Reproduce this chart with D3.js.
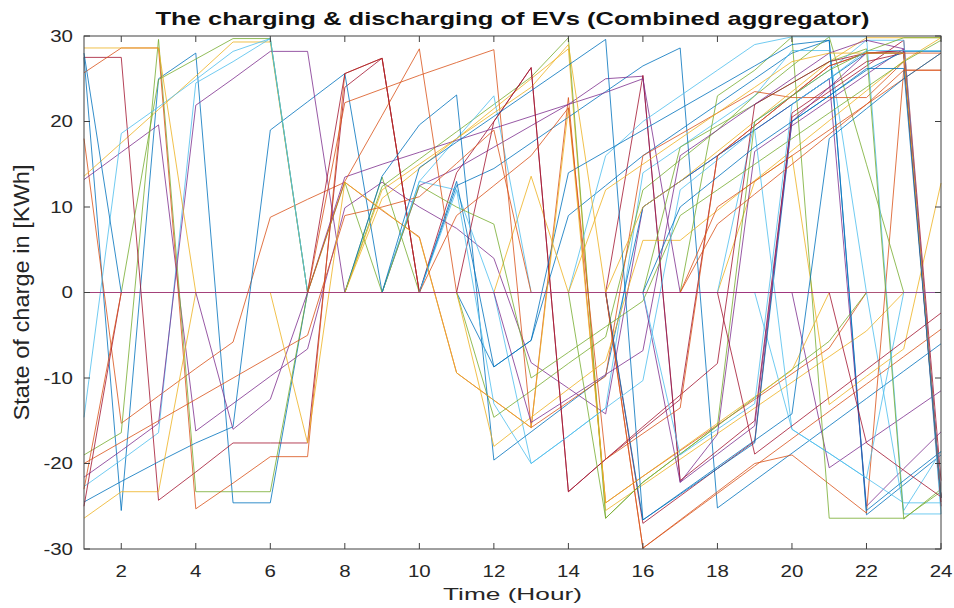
<!DOCTYPE html>
<html><head><meta charset="utf-8">
<script src="https://cdn.jsdelivr.net/npm/d3@7"></script>
<style>html,body{margin:0;padding:0;background:#fff}</style>
</head><body>
<script>
const hours = d3.range(1, 25);
const xTicks = [2,4,6,8,10,12,14,16,18,20,22,24];
const yTicks = [-30,-20,-10,0,10,20,30];
const titleText = "The charging & discharging of EVs (Combined aggregator)";
const xLabel = "Time (Hour)";
const yLabel = "State of charge in [KWh]";

const ev01 = [27.5,-25.5,25,28,-24.6,-24.6,0,0,0,0,0,-8.7,-5.6,9,12.5,16,19,22,25,28,29.5,-26,-22.5,-19];
const ev02 = [18,-15.3,-12.1,-8.9,-5.8,8.8,10.9,12.9,9.6,6.5,-9.4,-12.6,-15.8,22.8,-24.6,-21.5,-18.5,-15.5,-12.5,-9.5,-6.5,0,0,0];
const ev03 = [13.6,17.5,21.4,25.3,29.3,29.3,0,0,11,14.5,18,21.5,25,28.5,-25.5,-22.5,-19.5,-16.5,-13.5,-10.5,-7.5,-4.5,0,0];
const ev04 = [13.2,16.4,19.6,-16.2,-13,-9.8,-6.6,9.9,12.9,10,7.5,4,-8.2,-11.2,-14.2,10,13,16,19,22,25,-25,-20.6,-16.3];
const ev05 = [-19,-16.4,29.6,-23.3,-23.3,-23.3,0,0,12.4,15.6,18.8,22,25.2,29.8,-26.4,-22.2,-18.9,-15.6,-12.3,-9,-5.7,0,0,0];
const ev06 = [-22.7,-19.6,-16.4,24.5,27,29.7,0,0,0,0,0,0,-20,-16.8,-13.5,14,17,20,23,28.3,28.3,0,-25.5,-18.6];
const ev07 = [27.5,27.5,-24.3,-21,-17.6,-17.6,-17.6,24,27.4,0,14,20,26.3,-23.3,-19.5,-16,-12.5,16,19.5,23,26.5,28,28,-24];
const ev08 = [-24.5,-22.1,-19.8,-17.6,-15.7,19,22.3,25.6,0,0,12.5,14.5,17.5,20.5,23.5,26.5,28.6,-25.2,-22,-18.8,-15.6,-12.4,-9.2,-6];
const ev09 = [25.7,28.6,28.6,-25.3,-22.3,-19.2,-19.2,25.6,27.4,0,0,0,0,0,0,-29.9,-26.6,-23.3,-20,-19,-22.4,-25.8,26,26];
const ev10 = [-26.4,-23.3,-23.3,0,0,0,0,0,0,0,0,0,13.6,0,0,0,0,0,13,16,-13.1,-9.8,-6.6,12.8];
const ev11 = [-21.6,-18.5,-15.3,21.9,25,28.2,28.2,0,0,12.5,14.5,17,19.5,22,25,25.3,-22.2,-16.6,16.5,19.5,22.5,25.5,28.5,-24];
const ev12 = [0,0,24.9,27.3,29.7,29.7,0,0,13.5,0,0,-14.6,-11.5,-8.3,-5.2,12,15.5,19,23,26.5,29.9,15,0,0];
const ev13 = [-14.6,18.6,21.7,24.9,28.2,29.7,0,0,0,13,18,23,0,0,0,0,0,0,0,-16,-18.8,-21.7,-24.6,-24.6];
const ev14 = [-25,0,0,0,0,0,0,25.6,27.4,0,0,0,0,0,0,25.4,-22,-18.5,-15,20.5,23.5,26.5,29.5,-22];
const ev15 = [0,0,0,0,0,0,0,0,13.6,19.6,23.1,-19.6,-16.3,-13,-9.7,10,13,16,19,22,25,28,28,-24];
const ev16 = [-23,0,0,0,0,0,0,22.2,23.8,25.4,26.9,28.4,-15.8,-12.8,-9.8,16,18.5,21,23.5,22.8,22.8,22.8,27,-24];
const ev17 = [28.6,28.6,28.6,0,0,0,0,0,0,0,0,-18,-14.6,-11.3,-8,6.1,6.1,9.6,13.1,16.6,20.1,23.6,27.1,29.8];
const ev18 = [0,0,0,0,0,0,0,13.5,15,16.4,17.8,19.2,20.6,22,23.4,25,0,0,0,0,-20.5,-17.5,-14.5,-11.5];
const ev19 = [0,0,0,0,0,0,0,12.9,0,0,0,0,0,0,0,0,0,23,26,29.9,-26.4,-26.4,-26.4,-23.3];
const ev20 = [0,0,0,0,0,0,0,0,0,13,12,0,0,0,16,20,23,26,29,29.9,29.9,29.9,-25.9,-25.9];
const ev21 = [0,0,0,0,0,0,0,0,0,0,0,0,0,0,0,-27,-23.8,-20.6,-17.4,21,24,27,28,-25];
const ev22 = [28,0,0,0,0,0,0,0,0,0,0,0,0,0,0,-26.6,-23.6,-20.6,-17.6,20,23,26,28.2,28.2];
const ev23 = [0,0,0,0,0,0,0,13,20.7,28.5,0,0,0,0,0,-29.9,-26.7,-23.5,-20.3,-17.1,-13.9,-10.7,-7.5,-4.3];
const ev24 = [0,0,0,0,0,0,0,0,12,15,18,21,24,29,0,10,13,16.5,20,23.5,27,29.8,29.8,29.8];
const ev25 = [0,0,0,0,-16,-12.5,0,0,0,0,0,0,0,0,0,0,-22.2,-18.9,-15.6,20,24,28,28.3,-24];
const ev26 = [0,0,0,0,0,0,0,0,0,0,0,0,0,0,0,0,17,19.5,22,24.5,27,28.5,-26.5,-23];
const ev27 = [0,0,0,0,0,0,0,0,0,0,0,0,0,0,0,0,0,0,20,23,26,29.5,29.5,-25.9];
const ev28 = [0,0,0,0,0,0,0,0,0,0,0,20,26.3,-23.3,-19.5,-15.7,-12,-8.3,22,24.5,27,28,28.3,-24.5];
const ev29 = [0,0,0,0,0,0,0,0,0,0,13,-8.7,-5.6,14,16.5,19,21.5,24,26.5,29,29.5,-25.5,-22,-18.6];
const ev30 = [-20,-17.5,-15,-12.5,-10,-7.5,-5,9,10,11.2,15.1,19,0,0,0,0,0,10,13,16,19,22,25,28];
const ev31 = [0,0,0,0,0,0,-17.6,12.9,9.7,6.4,-9.4,-12.6,-15.8,21.6,-24.6,-21.5,-18.4,-15.3,-12.2,-9.1,0,0,0,0];
const ev32 = [0,0,0,0,0,0,0,0,0,0,0,0,-15.2,-12.4,-9.6,-6.8,16,19,22,25,28,29.5,28.5,-24];
const ev33 = [0,0,0,0,0,0,0,0,0,12.5,10,8,-10,-7,-4,-1,9,12,15,18,21,24,27,29.5];
const ev34 = [0,0,0,0,0,0,0,0,0,0,12,-13,-20,-16.8,-13.5,-10.3,12,15.5,19,-16,-18.8,-21.7,0,0];
const ev35 = [0,0,0,0,0,0,0,0,0,0,0,0,0,0,0,0,0,0,0,0,0,-17.6,-20.8,-23.9];
const ev36 = [0,0,0,0,0,0,0,0,0,14.6,17.6,20.6,23.6,26.6,29.6,-26.6,-23.5,-20.4,-17.3,-14.2,18,21.5,25,28];
const ev37 = [0,0,0,0,0,0,0,0,0,0,9,12.5,16,21.6,-19.5,-16.5,-13.5,16,19.5,23,26.5,28,28,28];
const ev38 = [0,0,0,0,0,0,0,0,0,0,0,0,0,0,12,15,18,21,24,27,28,28,28,-24];
const ev39 = [0,0,0,0,0,0,0,0,0,0,0,0,0,0,0,0,0,0,0,0,0,0,0,0];
const ev40 = [0,0,0,0,0,0,0,0,0,0,0,0,0,0,-26.4,-22.2,-18.9,-15.6,20,23,26,28.2,29.8,29.8];
const ev41 = [0,0,0,0,0,0,0,0,0,0,0,0,0,0,0,0,-19,-16,-13,22,25,28.3,28.3,28.3];
const ev42 = [0,0,0,0,0,0,0,0,0,0,0,0,0,0,0,0,0,0,-18.9,-15.6,-12.3,-9,-5.7,-2.4];
const ev43 = [0,0,0,0,0,0,0,0,0,0,0,0,0,0,0,0,10,13.5,17,20,23,26.2,26.2,-24];
const ev44 = [0,0,0,0,0,0,0,0,0,0,0,0,0,0,0,0,0,8,11.5,15,18.5,22,26,26];

const series = [ev01,ev02,ev03,ev04,ev05,ev06,ev07,ev08,ev09,ev10,ev11,ev12,ev13,ev14,ev15,
  ev16,ev17,ev18,ev19,ev20,ev21,ev22,ev23,ev24,ev25,ev26,ev27,ev28,ev29,ev30,ev31,ev32,ev33,
  ev34,ev35,ev36,ev37,ev38,ev39,ev40,ev41,ev42,ev43,ev44];

const W = 954, H = 608;
const L = 84, R = 941, T = 36, B = 549;
const palette = ["#0072BD","#D95319","#EDB120","#7E2F8E","#77AC30","#4DBEEE","#A2142F"];
const color = d3.scaleOrdinal(d3.range(7), palette);

const svg = d3.select("body").append("svg").attr("width", W).attr("height", H)
  .style("font-family", "'Liberation Sans', Arial, sans-serif");
svg.append("rect").attr("width", W).attr("height", H).attr("fill", "#fff");

const x = d3.scaleLinear().domain([1, 24]).range([L, R]);
const y = d3.scaleLinear().domain([-30, 30]).range([B, T]);

const line = d3.line().x((d, i) => x(hours[i])).y(d => y(d));

const zeroIdx = series.indexOf(ev39);
const order = d3.range(series.length).sort((a, b) => (a === zeroIdx) - (b === zeroIdx) || a - b);

const gl = svg.append("g");
gl.selectAll("path").data(order).join("path")
  .attr("d", i => line(series[i]))
  .attr("fill", "none")
  .attr("stroke", i => i === zeroIdx ? "#a03c8c" : color(i % 7))
  .attr("stroke-width", 1.0)
  .attr("stroke-opacity", 0.8)
  .attr("stroke-linejoin", "round");

// box & ticks
const axc = "#404040";
svg.append("rect").attr("x", L).attr("y", T).attr("width", R - L).attr("height", B - T)
  .attr("fill", "none").attr("stroke", axc).attr("stroke-width", 1);
const tk = 6;
const gt = svg.append("g").attr("stroke", axc).attr("stroke-width", 1);
xTicks.forEach(t => {
  gt.append("line").attr("x1", x(t)).attr("x2", x(t)).attr("y1", B).attr("y2", B - tk);
  gt.append("line").attr("x1", x(t)).attr("x2", x(t)).attr("y1", T).attr("y2", T + tk);
});
yTicks.forEach(t => {
  gt.append("line").attr("x1", L).attr("x2", L + tk).attr("y1", y(t)).attr("y2", y(t));
  gt.append("line").attr("x1", R).attr("x2", R - tk).attr("y1", y(t)).attr("y2", y(t));
});

const sx = 1.28;
function stretchedText(px, py, txt, anchor, size, weight) {
  const g = svg.append("g").attr("transform", `translate(${px},${py}) scale(${sx},1)`);
  g.append("text").attr("text-anchor", anchor).attr("font-size", size)
    .attr("font-weight", weight || "normal").attr("fill", "#262626").text(txt);
  return g;
}
xTicks.forEach(t => stretchedText(x(t), 577, String(t), "middle", 16));
yTicks.forEach(t => stretchedText(73, y(t) + 5.5, String(t), "end", 16));

svg.append("text").attr("x", (L + R) / 2).attr("y", 25).attr("text-anchor", "middle")
  .attr("font-size", 19).attr("font-weight", "bold").attr("fill", "#111")
  .attr("textLength", 714).attr("lengthAdjust", "spacingAndGlyphs").text(titleText);

svg.append("text").attr("x", (L + R) / 2).attr("y", 600).attr("text-anchor", "middle")
  .attr("font-size", 17).attr("fill", "#262626")
  .attr("textLength", 139).attr("lengthAdjust", "spacingAndGlyphs").text(xLabel);

svg.append("g").attr("transform", `translate(29,${(T + B) / 2}) scale(1.25,1) rotate(-90)`)
  .append("text").attr("text-anchor", "middle").attr("font-size", 17).attr("fill", "#262626")
  .attr("textLength", 256).attr("lengthAdjust", "spacingAndGlyphs").text(yLabel);
</script>
</body></html>
